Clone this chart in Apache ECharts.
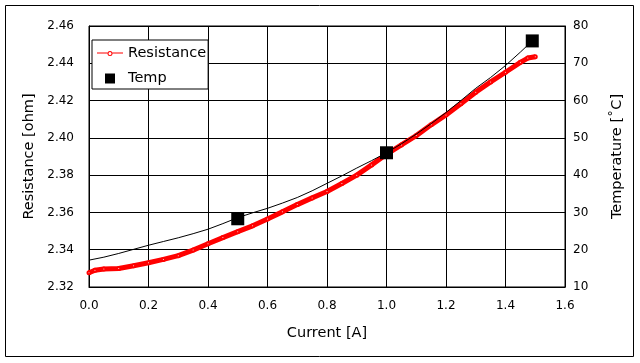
<!DOCTYPE html>
<html><head><meta charset="utf-8">
<script src="https://cdn.jsdelivr.net/npm/echarts@6/dist/echarts.min.js"></script>
<style>html,body{margin:0;padding:0;background:#fff}#c{width:640px;height:363px}</style>
</head><body><div id="c"></div>
<script>
// Resistance measurement (left axis)
const currentR = [0.00,0.02,0.05,0.10,0.15,0.20,0.25,0.30,0.35,0.40,0.45,0.50,0.55,0.60,0.65,0.70,0.75,0.80,0.85,0.90,0.95,1.00,1.05,1.10,1.15,1.20,1.25,1.30,1.35,1.40,1.45,1.475,1.50];
const resistance = [2.3276,2.3290,2.3297,2.3299,2.3314,2.3330,2.3348,2.3368,2.3398,2.3432,2.3465,2.3497,2.3528,2.3565,2.3603,2.3642,2.3678,2.3712,2.3755,2.3800,2.3855,2.3912,2.3962,2.4012,2.4070,2.4123,2.4183,2.4245,2.4300,2.4352,2.4405,2.4428,2.4435];
// Continuous temperature trace (right axis, thin black line)
const currentT = [0.00,0.05,0.10,0.15,0.20,0.25,0.30,0.35,0.40,0.45,0.50,0.55,0.60,0.65,0.70,0.75,0.80,0.85,0.90,0.95,1.00,1.05,1.10,1.15,1.20,1.25,1.30,1.35,1.40,1.45,1.49];
const tempTrace = [17.2,18.0,19.0,20.1,21.2,22.2,23.2,24.3,25.5,27.0,28.6,29.9,31.1,32.5,34.0,35.8,37.8,39.8,41.9,43.9,46.0,48.4,51.0,53.8,56.8,60.0,63.3,66.2,69.4,73.0,76.0];
// Temp markers (right axis)
const currentTempPts = [0.5,1.0,1.49];
const tempPts = [28.3,46.0,76.0];
// Axis ticks
const xTicks = [0.0,0.2,0.4,0.6,0.8,1.0,1.2,1.4,1.6];
const leftTicks = [2.32,2.34,2.36,2.38,2.40,2.42,2.44,2.46];
const rightTicks = [10,20,30,40,50,60,70,80];

const FONT = 'DejaVu Sans';
const zip = (a,b)=>a.map((v,i)=>[v,b[i]]);
const resIcon = 'path://M0,4L10.5,4L10.5,5L0,5Z M15.5,4L26,4L26,5L15.5,5Z ' +
  'M15.5,5A2.5,2.5 0 1 0 10.5,5A2.5,2.5 0 1 0 15.5,5Z M14.5,5A1.5,1.5 0 1 1 11.5,5A1.5,1.5 0 1 1 14.5,5Z';
const sqIcon = 'path://M0,0L10,0L10,10L0,10Z';
const chart = echarts.init(document.getElementById('c'), null, {renderer:'canvas'});
chart.setOption({
  backgroundColor:'#fff',
  animation:false,
  textStyle:{fontFamily:FONT,color:'#000'},
  graphic:[{type:'rect',shape:{x:5.5,y:5.5,width:628,height:351},style:{fill:null,stroke:'#000',lineWidth:1},z:-1}],
  grid:{left:89,right:75,top:26,bottom:76,show:true,borderColor:'#000',borderWidth:1,backgroundColor:'#fff'},
  legend:{
    left:92,top:40,orient:'vertical',
    backgroundColor:'#fff',borderColor:'#000',borderWidth:1,borderRadius:0,
    padding:[6,2,3,5],itemGap:10,itemWidth:26,itemHeight:10,symbolKeepAspect:true,
    textStyle:{fontFamily:FONT,fontSize:14.5,color:'#000'},
    data:[{name:'Resistance',icon:resIcon,
           itemStyle:{color:'#ff0000',borderColor:'#ff0000',borderWidth:0,opacity:1},
           lineStyle:{color:'#ff0000',width:0}},
          {name:'Temp',icon:sqIcon,itemStyle:{color:'#000',borderWidth:0,opacity:1}}]
  },
  xAxis:{type:'value',min:xTicks[0],max:xTicks[xTicks.length-1],interval:0.2,
    name:'Current [A]',nameLocation:'middle',nameGap:39,
    nameTextStyle:{fontFamily:FONT,fontSize:14.5,color:'#000'},
    axisLine:{lineStyle:{color:'#000'}},axisTick:{show:false},
    axisLabel:{color:'#000',fontFamily:FONT,fontSize:12,margin:13,formatter:v=>v.toFixed(1)},
    splitLine:{lineStyle:{color:'#000',width:1}}},
  yAxis:[
    {type:'value',min:leftTicks[0],max:leftTicks[leftTicks.length-1],interval:0.02,
     name:'Resistance [ohm]',nameLocation:'middle',nameGap:49,nameRotate:90,
     nameTextStyle:{fontFamily:FONT,fontSize:14.5,color:'#000'},
     axisLine:{show:true,lineStyle:{color:'#000'}},axisTick:{show:false},
     axisLabel:{color:'#000',fontFamily:FONT,fontSize:12,margin:15,formatter:v=>v.toFixed(2)},
     splitLine:{lineStyle:{color:'#000',width:1}}},
    {type:'value',min:rightTicks[0],max:rightTicks[rightTicks.length-1],interval:10,position:'right',
     name:'Temperature [˚C]',nameLocation:'middle',nameGap:45,nameRotate:90,
     nameTextStyle:{fontFamily:FONT,fontSize:14.5,color:'#000'},
     axisLine:{show:true,lineStyle:{color:'#000'}},axisTick:{show:false},
     axisLabel:{color:'#000',fontFamily:FONT,fontSize:12,margin:8},
     splitLine:{show:false}}
  ],
  series:[
    {name:'Resistance',type:'line',yAxisIndex:0,data:zip(currentR,resistance),
     color:'#ff0000',lineStyle:{width:5,color:'#ff0000'},
     symbol:'emptyCircle',symbolSize:3,showAllSymbol:true,
     itemStyle:{color:'#ff0000',borderColor:'#ff0000',borderWidth:1},z:2},
    {name:'TempTrace',type:'line',yAxisIndex:1,data:zip(currentT,tempTrace),
     color:'#000',lineStyle:{width:1,color:'#000'},symbol:'none',z:3},
    {name:'Temp',type:'scatter',yAxisIndex:1,data:zip(currentTempPts,tempPts),
     symbol:'rect',symbolSize:13,itemStyle:{color:'#000',opacity:1},z:4}
  ]
});
</script></body></html>
